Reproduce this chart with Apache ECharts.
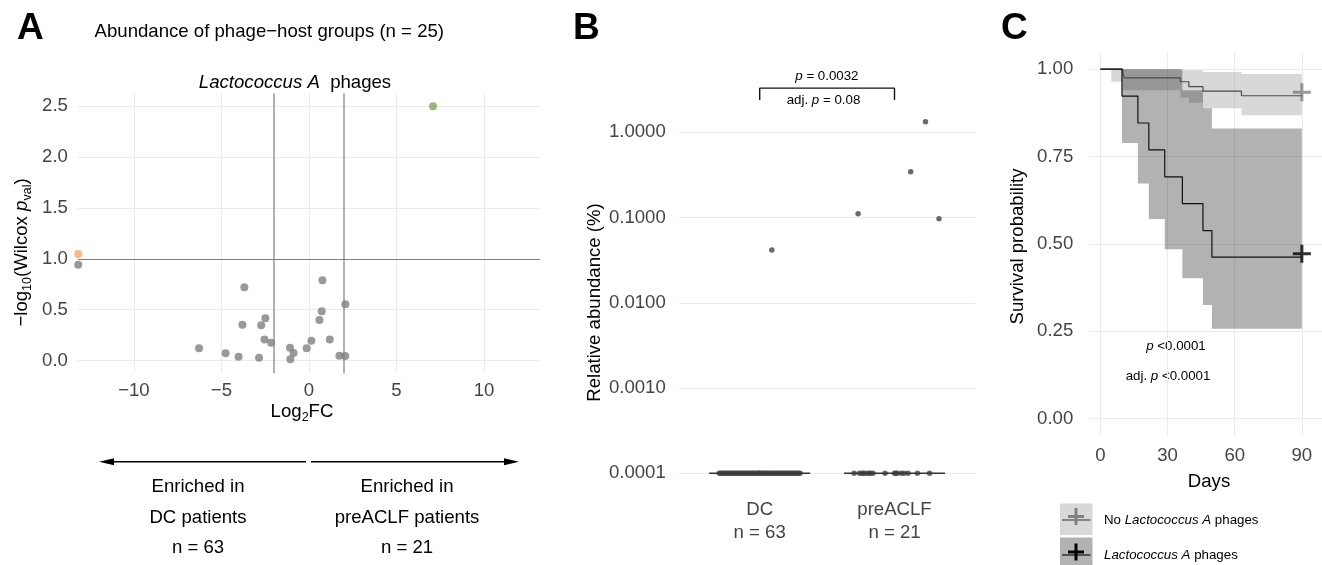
<!DOCTYPE html>
<html>
<head>
<meta charset="utf-8">
<title>Lactococcus A phages</title>
<script src="https://cdn.jsdelivr.net/npm/echarts@6.0.0/dist/echarts.min.js"></script>
<style>
  html, body { margin: 0; padding: 0; background: #fff; }
  #chart { width: 1322px; height: 565px; }
</style>
</head>
<body>
<div id="chart"></div>
<script>
const FONT = '"Liberation Sans", Arial, Helvetica, sans-serif';
const BASE = 18.6;

// ---- A: volcano plot of phage-host groups ----
const volcanoLfc = [-13.18, -3.69, 0.77, 2.08, 0.73, 0.60, -2.49, -3.80, -2.73, -2.54, -2.16, 1.19, 0.14,
    -6.28, -1.08, -0.13, -0.88, -4.76, -4.02, -2.85, -1.06, 1.74, 2.07];
const volcanoLogP = [0.942, 0.72, 0.789, 0.553, 0.485, 0.398, 0.415, 0.353, 0.348, 0.206, 0.174, 0.206, 0.194,
    0.121, 0.126, 0.121, 0.075, 0.071, 0.037, 0.028, 0.012, 0.047, 0.045];
const dcSigLfc = [-13.18];
const dcSigLogP = [1.047];
const preSigLfc = [7.09];
const preSigLogP = [2.498];
const lfcCutoff = 2;
const logPCutoff = 1;
const volcanoXTicks = [-10, -5, 0, 5, 10];
const volcanoYTicks = [0, 0.5, 1, 1.5, 2, 2.5];

// ---- B: relative abundance per patient group ----
const groupNames = ["DC", "preACLF"];
const groupSizes = [63, 21];
const dcAbundance = [
    0.0001, 0.0001, 0.0001, 0.0001, 0.0001, 0.0001, 0.0001, 0.0001, 0.0001, 0.0001,
    0.0001, 0.0001, 0.0001, 0.0001, 0.0001, 0.0001, 0.0001, 0.0001, 0.0001, 0.0001,
    0.0001, 0.0001, 0.0001, 0.0001, 0.0001, 0.0001, 0.0001, 0.0001, 0.0001, 0.0001,
    0.0001, 0.0001, 0.0001, 0.0001, 0.0001, 0.0001, 0.0001, 0.0001, 0.0001, 0.0001,
    0.0001, 0.0001, 0.0001, 0.0001, 0.0001, 0.0001, 0.0001, 0.0001, 0.0001, 0.0001,
    0.0001, 0.0001, 0.0001, 0.0001, 0.0001, 0.0001, 0.0001, 0.0001, 0.0001, 0.0001,
    0.0001, 0.0001, 0.0416,
];
const dcJitter = [
    -0.30, -0.29, -0.27, -0.26, -0.24, -0.23, -0.22, -0.20, -0.19, -0.17,
    -0.16, -0.15, -0.13, -0.12, -0.11, -0.09, -0.08, -0.07, -0.05, -0.04,
    -0.03, -0.02, 0.00, 0.01, 0.02, 0.04, 0.05, 0.06, 0.08, 0.09,
    0.10, 0.11, 0.13, 0.14, 0.15, 0.17, 0.18, 0.19, 0.21, 0.22,
    0.23, 0.25, 0.26, 0.27, 0.29, 0.30, -0.25, -0.18, -0.10, -0.01,
    0.07, 0.16, 0.24, -0.21, -0.14, -0.06, 0.03, 0.12, 0.20, 0.28,
    -0.28, 0.00, 0.09,
];
const preAbundance = [
    0.0001, 0.0001, 0.0001, 0.0001, 0.0001, 0.0001, 0.0001, 0.0001, 0.0001, 0.0001,
    0.0001, 0.0001, 0.0001, 0.0001, 0.0001, 0.0001, 0.0001,
    0.111, 1.33, 0.345, 0.097,
];
const preJitter = [
    -0.30, -0.26, -0.24, -0.23, -0.21, -0.19, -0.18, -0.16, -0.07, 0.00,
    0.01, 0.02, 0.05, 0.07, 0.10, 0.17, 0.26,
    -0.27, 0.23, 0.12, 0.33,
];
const abundanceTicks = [0.0001, 0.001, 0.01, 0.1, 1];
const bracketTop = 3.3;
const bracketLeg = 2.4;

// ---- C: Kaplan-Meier survival ----
const noLactoTime = [0, 10.0, 10.7, 35.7, 39.5, 45.8, 63.0, 90];
const noLactoSurv = [1, 0.988, 0.975, 0.964, 0.950, 0.937, 0.924, 0.924];
const noLactoCiTime = [4.8, 10.0, 35.7, 39.5, 45.8, 63.0, 90];
const noLactoCiUpper = [1, 1, 0.997, 0.997, 0.992, 0.986, 0.986];
const noLactoCiLower = [0.964, 0.940, 0.918, 0.904, 0.888, 0.868, 0.868];
const lactoTime = [0, 9.6, 16.7, 21.6, 28.7, 36.6, 45.8, 49.8, 90];
const lactoSurv = [1, 0.923, 0.846, 0.769, 0.692, 0.615, 0.538, 0.462, 0.462];
const lactoCiTime = [9.6, 16.7, 21.6, 28.7, 36.6, 45.8, 49.8, 90];
const lactoCiUpper = [1, 1, 1, 1, 0.94, 0.888, 0.83, 0.83];
const lactoCiLower = [0.789, 0.673, 0.571, 0.485, 0.402, 0.325, 0.257, 0.257];
const dayTicks = [0, 30, 60, 90];
const survTicks = [0, 0.25, 0.5, 0.75, 1];

const PLUS = "path://M-1,-6H1V-1H6V1H1V6H-1V1H-6V-1H-1Z";
const tickText = { color: "#444", fontSize: BASE, fontFamily: FONT };
const gridLine = { show: true, lineStyle: { color: "#ebebeb", width: 1 } };

function median(values) {
    const s = values.slice().sort((a, b) => a - b);
    const m = Math.floor(s.length / 2);
    return s.length % 2 ? s[m] : (s[m - 1] + s[m]) / 2;
}

function minus(v) {
    return v < 0 ? "\u2212" + Math.abs(v) : String(v);
}

function valueAxis(gridIndex, type, min, max, ticks, formatter, margin, extra, labelExtra) {
    return Object.assign(
        {
            type: type,
            gridIndex: gridIndex,
            min: min,
            max: max,
            axisLine: { show: false },
            axisTick: { show: false, customValues: ticks },
            axisLabel: Object.assign({ customValues: ticks, formatter: formatter, margin: margin }, tickText, labelExtra || {}),
            splitLine: gridLine,
        },
        extra || {}
    );
}

function ribbon(times, lower, upper, fill) {
    return {
        type: "custom",
        xAxisIndex: 2,
        yAxisIndex: 2,
        silent: true,
        z: 1,
        data: times.map((t, i) => [t, lower[i], upper[i]]),
        encode: { x: 0, y: [1, 2] },
        renderItem(params, api) {
            if (params.dataIndex !== 0) return null;
            const top = [];
            const bottom = [];
            for (let i = 0; i < times.length - 1; i++) {
                top.push(api.coord([times[i], upper[i]]), api.coord([times[i + 1], upper[i]]));
                bottom.push(api.coord([times[i], lower[i]]), api.coord([times[i + 1], lower[i]]));
            }
            return {
                type: "polygon",
                shape: { points: top.concat(bottom.reverse()) },
                style: { fill: fill },
            };
        },
    };
}

function txt(x, y, text, opts) {
    const o = opts || {};
    const size = o.size || BASE;
    const color = o.color || "#000";
    return {
        type: "text",
        x: x,
        y: y,
        rotation: o.rotation || 0,
        silent: true,
        style: {
            text: text,
            fill: color,
            fontSize: size,
            fontWeight: o.weight || "normal",
            fontFamily: FONT,
            align: o.align || "center",
            verticalAlign: "middle",
            rich: {
                i: { fontStyle: "italic", fontSize: size, fontFamily: FONT, fill: color },
                s: { fontSize: 12.5, verticalAlign: "bottom", fontFamily: FONT, fill: color },
                t: { fontSize: size, lineHeight: 25, fontFamily: FONT, fill: color },
            },
        },
    };
}

function arrow(x1, x2, y) {
    const dir = x2 > x1 ? 1 : -1;
    return [
        { type: "line", silent: true, shape: { x1: x1, y1: y, x2: x2 - dir * 12, y2: y }, style: { stroke: "#000", lineWidth: 1.5 } },
        { type: "polygon", silent: true, shape: { points: [[x2, y], [x2 - dir * 15, y - 3.5], [x2 - dir * 15, y + 3.5]] }, style: { fill: "#000" } },
    ];
}

const boxHalf = 0.375;
const dcMedian = median(dcAbundance);
const preMedian = median(preAbundance);

const chart = echarts.init(document.getElementById("chart"));

const option = {
    animation: false,
    backgroundColor: "#fff",
    textStyle: { fontFamily: FONT },
    grid: [
        { left: 77.9, top: 93.3, width: 462.1, height: 280, outerBoundsMode: "none" },
        { left: 678.8, top: 67.8, width: 296.6, height: 424.8, outerBoundsMode: "none" },
        { left: 1089.3, top: 51.7, width: 232.7, height: 384.4, outerBoundsMode: "none" },
    ],
    xAxis: [
        valueAxis(0, "value", -13.2, 13.2, volcanoXTicks, minus, 8),
        valueAxis(1, "value", 0.4, 2.6, [1, 2], (v) => groupNames[v - 1] + "\nn = " + groupSizes[v - 1], 6,
            { splitLine: { show: false } }, { lineHeight: 23 }),
        valueAxis(2, "value", -5, 99, dayTicks, (v) => String(v), 10),
    ],
    yAxis: [
        valueAxis(0, "value", -0.125, 2.625, volcanoYTicks, (v) => v.toFixed(1), 10),
        valueAxis(1, "log", Math.pow(10, -4.227), Math.pow(10, 0.757), abundanceTicks, (v) => v.toFixed(4), 13, {
            logBase: 10,
        }),
        valueAxis(2, "value", -0.05, 1.05, survTicks, (v) => v.toFixed(2), 16),
    ],
    series: [
        {
            type: "scatter",
            name: "other groups",
            xAxisIndex: 0,
            yAxisIndex: 0,
            symbolSize: 8,
            itemStyle: { color: "#7f7f7f" },
            data: volcanoLfc.map((x, i) => [x, volcanoLogP[i]]),
            markLine: {
                silent: true,
                symbol: "none",
                z: 1,
                label: { show: false },
                data: [
                    { xAxis: -lfcCutoff, lineStyle: { color: "#999", width: 1.5, type: "solid" } },
                    { xAxis: lfcCutoff, lineStyle: { color: "#999", width: 1.5, type: "solid" } },
                    { yAxis: logPCutoff, lineStyle: { color: "#7f7f7f", width: 1.2, type: "solid" } },
                ],
            },
        },
        {
            type: "scatter",
            name: "DC",
            xAxisIndex: 0,
            yAxisIndex: 0,
            symbolSize: 8,
            itemStyle: { color: "#fca463" },
            data: dcSigLfc.map((x, i) => [x, dcSigLogP[i]]),
        },
        {
            type: "scatter",
            name: "preACLF",
            xAxisIndex: 0,
            yAxisIndex: 0,
            symbolSize: 8,
            itemStyle: { color: "#7ea55f" },
            data: preSigLfc.map((x, i) => [x, preSigLogP[i]]),
        },
        {
            type: "line",
            xAxisIndex: 1,
            yAxisIndex: 1,
            symbol: "none",
            lineStyle: { color: "#333", width: 1.6 },
            data: [[1 - boxHalf, dcMedian], [1 + boxHalf, dcMedian]],
        },
        {
            type: "line",
            xAxisIndex: 1,
            yAxisIndex: 1,
            symbol: "none",
            lineStyle: { color: "#333", width: 1.6 },
            data: [[2 - boxHalf, preMedian], [2 + boxHalf, preMedian]],
        },
        {
            type: "scatter",
            xAxisIndex: 1,
            yAxisIndex: 1,
            symbolSize: 5.5,
            itemStyle: { color: "#454545" },
            data: dcJitter.map((j, i) => [1 + j, dcAbundance[i]]),
        },
        {
            type: "scatter",
            xAxisIndex: 1,
            yAxisIndex: 1,
            symbolSize: 5.5,
            itemStyle: { color: "#454545" },
            data: preJitter.map((j, i) => [2 + j, preAbundance[i]]),
        },
        {
            type: "line",
            xAxisIndex: 1,
            yAxisIndex: 1,
            symbol: "none",
            lineStyle: { color: "#111", width: 1.4 },
            data: [[1, bracketLeg], [1, bracketTop], [2, bracketTop], [2, bracketLeg]],
        },
        ribbon(noLactoCiTime, noLactoCiLower, noLactoCiUpper, "rgba(127,127,127,0.3)"),
        ribbon(lactoCiTime, lactoCiLower, lactoCiUpper, "rgba(0,0,0,0.3)"),
        {
            type: "line",
            name: "No Lactococcus A phages",
            xAxisIndex: 2,
            yAxisIndex: 2,
            step: "end",
            symbol: "none",
            lineStyle: { color: "#4a4a4a", width: 1.2 },
            data: noLactoTime.map((t, i) => [t, noLactoSurv[i]]),
        },
        {
            type: "line",
            name: "Lactococcus A phages",
            xAxisIndex: 2,
            yAxisIndex: 2,
            step: "end",
            symbol: "none",
            lineStyle: { color: "#111", width: 1.2 },
            data: lactoTime.map((t, i) => [t, lactoSurv[i]]),
        },
        {
            type: "scatter",
            xAxisIndex: 2,
            yAxisIndex: 2,
            symbol: PLUS,
            symbolSize: 18,
            symbolOffset: [0, -3.5],
            itemStyle: { color: "#808080" },
            data: [[noLactoTime[noLactoTime.length - 1], noLactoSurv[noLactoSurv.length - 1]]],
        },
        {
            type: "scatter",
            xAxisIndex: 2,
            yAxisIndex: 2,
            symbol: PLUS,
            symbolSize: 18,
            symbolOffset: [0, -3.5],
            itemStyle: { color: "#000" },
            data: [[lactoTime[lactoTime.length - 1], lactoSurv[lactoSurv.length - 1]]],
        },
    ],
    graphic: [
        // panel letters and headers
        txt(17, 29, "A", { size: 37, weight: "bold", align: "left" }),
        txt(573, 29, "B", { size: 37, weight: "bold", align: "left" }),
        txt(1001, 29, "C", { size: 37, weight: "bold", align: "left" }),
        txt(94.6, 31.5, "Abundance of phage\u2212host groups (n = 25)", { align: "left" }),
        txt(295, 82.7, "{i|Lactococcus A}  phages"),
        // panel A axis titles
        txt(22, 252.5, "{t|\u2212log}{s|10}{t|(Wilcox }{i|p}{s|val}{t|)}", { rotation: Math.PI / 2 }),
        txt(302, 412, "{t|Log}{s|2}{t|FC}"),
        ...arrow(306, 99, 461.7),
        ...arrow(311, 519, 461.7),
        txt(198, 486.7, "Enriched in"),
        txt(198, 518, "DC patients"),
        txt(198, 548, "n = 63"),
        txt(407, 486.7, "Enriched in"),
        txt(407, 518, "preACLF patients"),
        txt(407, 548, "n = 21"),
        // panel B
        txt(595, 302.5, "Relative abundance (%)", { rotation: Math.PI / 2 }),
        txt(826.9, 76.7, "{i|p} = 0.0032", { size: 13.3 }),
        txt(823.5, 100, "adj. {i|p} = 0.08", { size: 13.3 }),
        // panel C
        txt(1017.5, 246.5, "Survival probability", { rotation: Math.PI / 2 }),
        txt(1209, 481.7, "Days"),
        txt(1176, 346.7, "{i|p} <0.0001", { size: 13.3 }),
        txt(1168, 376, "adj. {i|p} <0.0001", { size: 13.3 }),
        // panel C legend
        { type: "rect", silent: true, shape: { x: 1060, y: 503.5, width: 32.5, height: 31.5 }, style: { fill: "rgba(127,127,127,0.3)" } },
        { type: "rect", silent: true, shape: { x: 1060, y: 537.5, width: 32.5, height: 31 }, style: { fill: "rgba(0,0,0,0.3)" } },
        { type: "line", silent: true, shape: { x1: 1062, y1: 520, x2: 1090.5, y2: 520 }, style: { stroke: "#4a4a4a", lineWidth: 1.2 } },
        { type: "line", silent: true, shape: { x1: 1062, y1: 555, x2: 1090.5, y2: 555 }, style: { stroke: "#111", lineWidth: 1.2 } },
        { type: "rect", silent: true, shape: { x: 1074.5, y: 508, width: 3, height: 17 }, style: { fill: "#808080" } },
        { type: "rect", silent: true, shape: { x: 1068, y: 515, width: 16, height: 3 }, style: { fill: "#808080" } },
        { type: "rect", silent: true, shape: { x: 1074.5, y: 543.5, width: 3, height: 17 }, style: { fill: "#000" } },
        { type: "rect", silent: true, shape: { x: 1068, y: 550.5, width: 16, height: 3 }, style: { fill: "#000" } },
        txt(1104, 520, "No {i|Lactococcus A} phages", { size: 13.3, align: "left" }),
        txt(1104, 555, "{i|Lactococcus A} phages", { size: 13.3, align: "left" }),
    ],
};

chart.setOption(option);
</script>
</body>
</html>
